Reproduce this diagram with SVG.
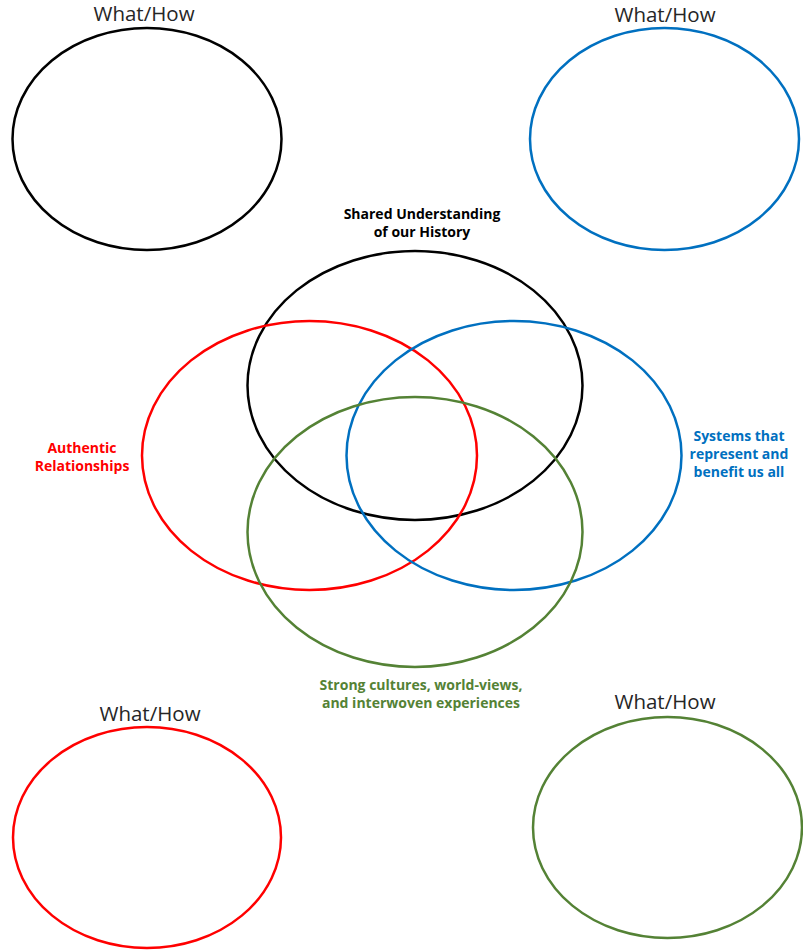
<svg xmlns="http://www.w3.org/2000/svg" width="803" height="950" viewBox="0 0 803 950">
<style>
.e{fill:none;stroke-width:2.5}
.k{stroke:#000000}
.r{stroke:#FF0000}
.b{stroke:#0070C0}
.g{stroke:#548235}
.wh{font-family:"Open Sans","Noto Sans",sans-serif;font-size:20.5px;fill:#262626;text-anchor:middle}
.lb{font-family:"Open Sans","Noto Sans",sans-serif;font-size:14px;font-weight:bold;text-anchor:middle}
</style>
<rect width="803" height="950" fill="#ffffff"/>
<g id="whathow-top-left">
<ellipse class="e k" cx="147" cy="139" rx="134.5" ry="111"/>
<text class="wh" x="144" y="21">What/How</text>
</g>
<g id="whathow-top-right">
<ellipse class="e b" cx="664.5" cy="139" rx="134.5" ry="111"/>
<text class="wh" x="665" y="22">What/How</text>
</g>
<g id="whathow-bottom-left">
<ellipse class="e r" cx="147" cy="837.5" rx="134" ry="110.5"/>
<text class="wh" x="150" y="721">What/How</text>
</g>
<g id="whathow-bottom-right">
<ellipse class="e g" cx="667.5" cy="827.5" rx="134.5" ry="110.5"/>
<text class="wh" x="665" y="709">What/How</text>
</g>
<g id="venn-history">
<ellipse class="e k" cx="415" cy="385.5" rx="167.5" ry="134.5"/>
<text class="lb" x="422" y="219" fill="#000000">Shared Understanding</text>
<text class="lb" x="422" y="237" fill="#000000">of our History</text>
</g>
<g id="venn-relationships">
<ellipse class="e r" cx="309.5" cy="455.5" rx="167.5" ry="134.5"/>
<text class="lb" x="82" y="453" fill="#FF0000">Authentic</text>
<text class="lb" x="82" y="471" fill="#FF0000">Relationships</text>
</g>
<g id="venn-systems">
<ellipse class="e b" cx="514" cy="455.5" rx="167.5" ry="134.5"/>
<text class="lb" x="739" y="441" fill="#0070C0">Systems that</text>
<text class="lb" x="739" y="459" fill="#0070C0">represent and</text>
<text class="lb" x="739" y="477" fill="#0070C0">benefit us all</text>
</g>
<g id="venn-cultures">
<ellipse class="e g" cx="415" cy="532" rx="167.5" ry="135"/>
<text class="lb" x="421" y="690" fill="#548235">Strong cultures, world-views,</text>
<text class="lb" x="421" y="708" fill="#548235">and interwoven experiences</text>
</g>
<g id="connectors"/>
</svg>
